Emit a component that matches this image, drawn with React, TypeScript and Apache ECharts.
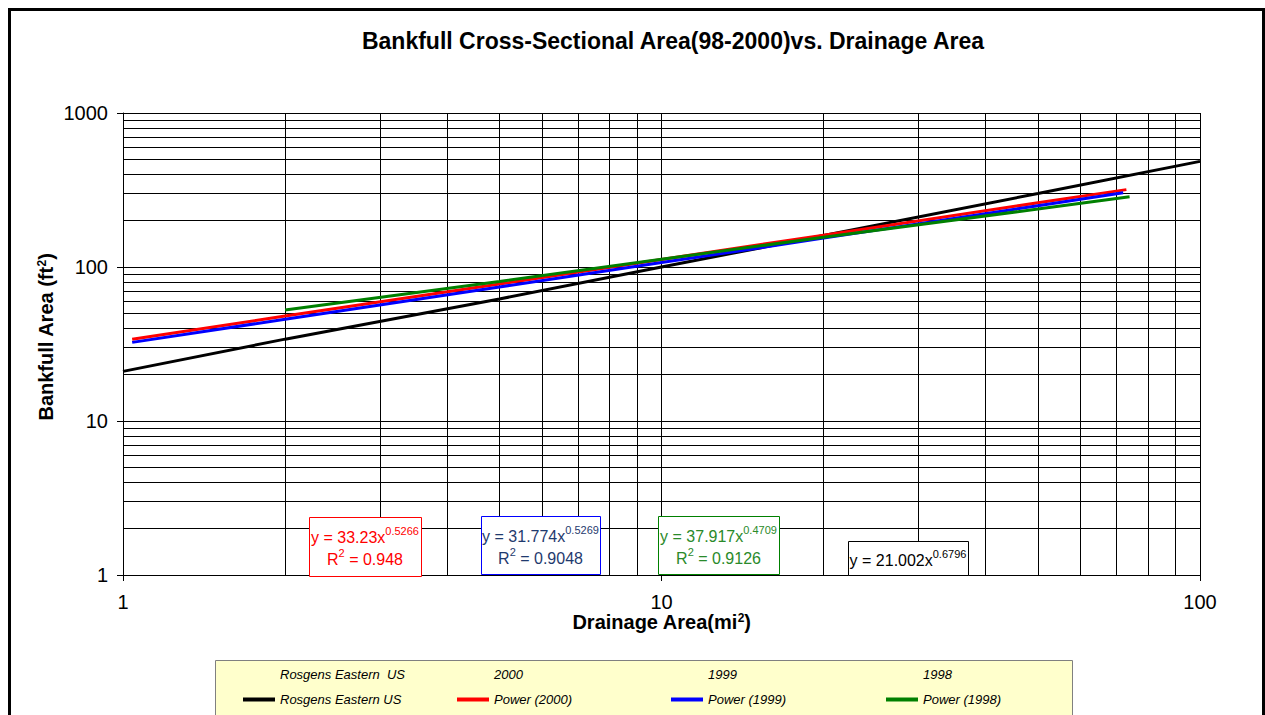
import React, { useEffect, useRef } from "react";
import * as echarts from "echarts";

// ---- data ----
const chartTitle = "Bankfull Cross-Sectional Area(98-2000)vs. Drainage Area";

const rosgensX = [1, 2, 5, 10, 20, 50, 100];
const rosgensY = [21, 34, 62, 100, 160, 300, 485];

const power2000X = [1.04, 2, 5, 10, 20, 50, 73];
const power2000Y = [34, 48, 77.5, 112, 161, 261, 318];

const power1999X = [1.04, 2, 5, 10, 20, 50, 72];
const power1999Y = [32.4, 45.8, 74.2, 106.8, 154, 250, 303];

const power1998X = [2.0, 5, 10, 20, 50, 74];
const power1998Y = [52.5, 80.6, 112.3, 156, 238, 286];

const xMinorGrid = [2, 3, 4, 5, 6, 7, 8, 9, 20, 30, 40, 50, 60, 70, 80, 90];
const yMinorGrid = [2, 3, 4, 5, 6, 7, 8, 9, 20, 30, 40, 50, 60, 70, 80, 90, 200, 300, 400, 500, 600, 700, 800, 900];

const dataSeriesNames = ["Rosgens Eastern  US", "2000", "1999", "1998"];
const trendNames = ["Rosgens Eastern US", "Power (2000)", "Power (1999)", "Power (1998)"];
const trendColors = ["#000000", "#FF0000", "#0000FF", "#008000"];

const equations = [
  { coef: "33.23", exp: "0.5266", r2: "0.948", color: "#FF0000", text: "#FF0000" },
  { coef: "31.774", exp: "0.5269", r2: "0.9048", color: "#0000FF", text: "#1F3A6E" },
  { coef: "37.917", exp: "0.4709", r2: "0.9126", color: "#008000", text: "#2A8A2A" },
  { coef: "21.002", exp: "0.6796", r2: "", color: "#000000", text: "#000000" },
];

const FONT = "Arial, 'Liberation Sans', Helvetica, sans-serif";

function pairs(xs: number[], ys: number[]) {
  return xs.map((x, i) => [x, ys[i]]);
}

export default function App() {
  const ref = useRef<HTMLDivElement>(null);

  useEffect(() => {
    if (!ref.current) return;
    const chart = echarts.init(ref.current, undefined, { renderer: "svg" });

    // layout of annotation boxes (pixels)
    const boxes = [
      { x: 309, y: 517, w: 112, h: 59 },
      { x: 481, y: 516, w: 119, h: 58 },
      { x: 658, y: 516, w: 121, h: 58 },
      { x: 848, y: 541, w: 120, h: 34 },
    ];

    const graphics: any[] = [];
    graphics.push({
      type: "rect",
      z: 20,
      shape: { x: 9.5, y: 9.5, width: 1254, height: 800 },
      style: { fill: "none", stroke: "#000", lineWidth: 3 },
      silent: true,
    });
    graphics.push({
      type: "rect",
      z: 0,
      shape: { x: 215.5, y: 660.5, width: 857, height: 70 },
      style: { fill: "#FFFFCC", stroke: "#808080", lineWidth: 1 },
      silent: true,
    });

    const richFor = (c: string) => ({
      a: { fontSize: 16, fontFamily: FONT, fill: c, lineHeight: 24 },
      s: { fontSize: 11, fontFamily: FONT, fill: c, lineHeight: 12, verticalAlign: "top" },
    });

    equations.forEach((eq, i) => {
      const b = boxes[i];
      graphics.push({
        type: "rect",
        z: 10,
        shape: { x: b.x + 0.5, y: b.y + 0.5, width: b.w, height: b.h },
        style: { fill: "#fff", stroke: eq.color, lineWidth: 1 },
        silent: true,
      });
      const cx = b.x + b.w / 2;
      const line1Y = eq.r2 ? b.y + 20 : b.y + b.h / 2 + 2;
      graphics.push({
        type: "text",
        z: 11,
        x: cx,
        y: line1Y,
        style: {
          text: `{a|y = ${eq.coef}x}{s|${eq.exp}}`,
          align: "center",
          verticalAlign: "middle",
          rich: richFor(eq.text),
        },
        silent: true,
      });
      if (eq.r2) {
        graphics.push({
          type: "text",
          z: 11,
          x: cx,
          y: b.y + 42,
          style: {
            text: `{a|R}{s|2}{a| = ${eq.r2}}`,
            align: "center",
            verticalAlign: "middle",
            rich: richFor(eq.text),
          },
          silent: true,
        });
      }
    });

    const legendLefts = [243, 457, 671, 886];
    const legends: any[] = [];
    const legendText = { fontFamily: FONT, fontSize: 13, fontStyle: "italic", color: "#000" };
    dataSeriesNames.forEach((n, i) => {
      legends.push({
        data: [{ name: n, icon: "rect", itemStyle: { opacity: 0 } }],
        left: legendLefts[i],
        top: 668,
        padding: 0,
        itemWidth: 32,
        itemHeight: 4,
        selectedMode: false,
        textStyle: legendText,
      });
    });
    trendNames.forEach((n, i) => {
      legends.push({
        data: [{ name: n, icon: "rect" }],
        left: legendLefts[i],
        top: 693,
        padding: 0,
        itemWidth: 32,
        itemHeight: 4,
        selectedMode: false,
        textStyle: legendText,
      });
    });

    const series: any[] = [];
    dataSeriesNames.forEach((n) => {
      series.push({
        name: n,
        type: "line",
        data: [],
        showSymbol: false,
        itemStyle: { color: "rgba(0,0,0,0)" },
        lineStyle: { color: "rgba(0,0,0,0)" },
      });
    });
    const trendData = [
      pairs(rosgensX, rosgensY),
      pairs(power2000X, power2000Y),
      pairs(power1999X, power1999Y),
      pairs(power1998X, power1998Y),
    ];
    trendNames.forEach((n, i) => {
      const s: any = {
        name: n,
        type: "line",
        data: trendData[i],
        showSymbol: false,
        symbol: "none",
        z: 3,
        itemStyle: { color: trendColors[i] },
        lineStyle: { color: trendColors[i], width: 3 },
        emphasis: { disabled: true },
      };
      if (i === 0) {
        s.markLine = {
          z: 1,
          silent: true,
          symbol: ["none", "none"],
          label: { show: false },
          emphasis: { disabled: true },
          lineStyle: { color: "#000", width: 1, type: "solid", opacity: 1 },
          data: [
            ...xMinorGrid.map((v) => ({ xAxis: v })),
            ...yMinorGrid.map((v) => ({ yAxis: v })),
          ],
        };
      }
      series.push(s);
    });

    const axisNameStyle = (extra: any) => ({
      fontFamily: FONT,
      fontSize: 20,
      fontWeight: "bold",
      color: "#000",
      lineHeight: 20,
      rich: {
        s: { fontFamily: FONT, fontSize: 12, fontWeight: "bold", color: "#000", verticalAlign: "top", lineHeight: 12 },
      },
      ...extra,
    });

    chart.setOption({
      animation: false,
      backgroundColor: "#fff",
      title: {
        text: chartTitle,
        left: 673,
        top: 29,
        textAlign: "center",
        padding: 0,
        textStyle: { fontFamily: FONT, fontSize: 23, fontWeight: "bold", color: "#000" },
      },
      legend: legends,
      grid: { left: 123, right: 65, top: 113, bottom: 140, containLabel: false },
      xAxis: {
        type: "log",
        logBase: 10,
        min: 1,
        max: 100,
        name: "Drainage Area(mi{s|2})",
        nameLocation: "middle",
        nameGap: 37,
        nameMoveOverlap: false,
        nameTextStyle: axisNameStyle({}),
        axisLine: { show: true, lineStyle: { color: "#000", width: 1 } },
        axisTick: { show: true, length: 6, lineStyle: { color: "#000" } },
        axisLabel: {
          fontFamily: FONT,
          fontSize: 20,
          lineHeight: 20,
          color: "#000",
          margin: 17,
          formatter: (v: number) => String(v),
        },
        splitLine: { show: true, lineStyle: { color: "#000", width: 1 } },
      },
      yAxis: {
        type: "log",
        logBase: 10,
        min: 1,
        max: 1000,
        name: "Bankfull Area (ft{s|2})",
        nameLocation: "middle",
        nameGap: 67,
        nameMoveOverlap: false,
        nameTextStyle: axisNameStyle({ padding: [0, 0, 0, 14] }),
        axisLine: { show: true, lineStyle: { color: "#000", width: 1 } },
        axisTick: { show: true, length: 6, lineStyle: { color: "#000" } },
        axisLabel: { fontFamily: FONT, fontSize: 20, color: "#000", margin: 15, formatter: (v: number) => String(v) },
        splitLine: { show: true, lineStyle: { color: "#000", width: 1 } },
      },
      graphic: graphics,
      series,
    });

    return () => chart.dispose();
  }, []);

  return (
    <div
      ref={ref}
      style={{ position: "absolute", left: 0, top: 0, width: 1265, height: 715, background: "#fff" }}
    />
  );
}
